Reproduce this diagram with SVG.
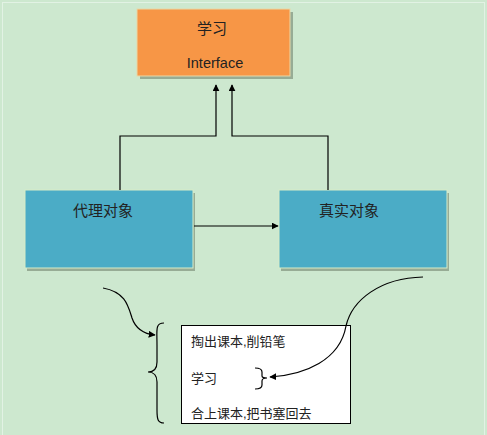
<svg xmlns="http://www.w3.org/2000/svg" width="487" height="435" viewBox="0 0 487 435">
<defs>
<style>
.t{font-family:"Liberation Sans","Noto Sans CJK SC",sans-serif;font-size:13px;fill:#222}
.b{font-size:15px}
.c{fill:none;stroke:#000;stroke-width:1.2}
.sh{fill:#8a9c86;opacity:0.8}
</style>
<marker id="a" viewBox="0 0 10 10" refX="9" refY="5" markerWidth="7" markerHeight="7" orient="auto" markerUnits="userSpaceOnUse">
<path d="M0,0 L10,5 L0,10 z" fill="#000"/>
</marker>
</defs>
<rect x="0" y="0" width="487" height="435" fill="#CDE8CF"/>
<rect x="2.5" y="2.5" width="482" height="440" fill="none" stroke="#E2F2E4" stroke-width="1"/>
<g id="iface">
<rect x="140" y="12" width="153" height="67" class="sh"/>
<rect x="137" y="9" width="153" height="67" fill="#F79646" stroke="#E8D8A8" stroke-width="1"/>
<text x="212" y="34" class="t b" text-anchor="middle">学习</text>
<text x="215" y="68" class="t" style="font-size:14.5px" text-anchor="middle">Interface</text>
</g>
<g id="proxy">
<rect x="27" y="193" width="168" height="78" class="sh"/>
<rect x="25" y="190" width="168" height="78" fill="#4BACC6" stroke="#D8ECC8" stroke-width="1"/>
<text x="103" y="216" class="t b" text-anchor="middle">代理对象</text>
</g>
<g id="real">
<rect x="281" y="193" width="168" height="78" class="sh"/>
<rect x="279" y="190" width="168" height="78" fill="#4BACC6" stroke="#D8ECC8" stroke-width="1"/>
<text x="349" y="216" class="t b" text-anchor="middle">真实对象</text>
</g>
<g id="steps">
<rect x="181.5" y="325.5" width="169" height="98" fill="#fff" stroke="#000" stroke-width="1"/>
<text x="191" y="346" class="t">掏出课本,削铅笔</text>
<text x="191" y="383" class="t">学习</text>
<text x="191" y="418" class="t">合上课本,把书塞回去</text>
</g>
<g id="connectors">
<polyline class="c" points="120,190 120,136 216,136 216,85" marker-end="url(#a)"/>
<polyline class="c" points="328,190 328,136 232,136 232,85" marker-end="url(#a)"/>
<line class="c" x1="194" y1="226" x2="278" y2="226" marker-end="url(#a)"/>
<path class="c" d="M103,288 C125,292 128,305 132,318 C136,330 145,334 155,335" marker-end="url(#a)"/>
<path class="c" d="M423,277 C380,278 352,300 346,326 C340,360 305,375 270,377" marker-end="url(#a)"/>
<path class="c" d="M164,323 C155,323 157,330 157,345 L157,362 C157,370 153,372 148,372 C153,372 157,374 157,382 L157,410 C157,420 158,423 164,423" stroke-width="1"/>
<path class="c" d="M255,368 C260,368 262,369 262,372 L262,376 C262,378 264,378 267,378 C264,378 262,379 262,381 L262,385 C262,388 260,389 255,389" stroke-width="1"/>
</g>
</svg>
